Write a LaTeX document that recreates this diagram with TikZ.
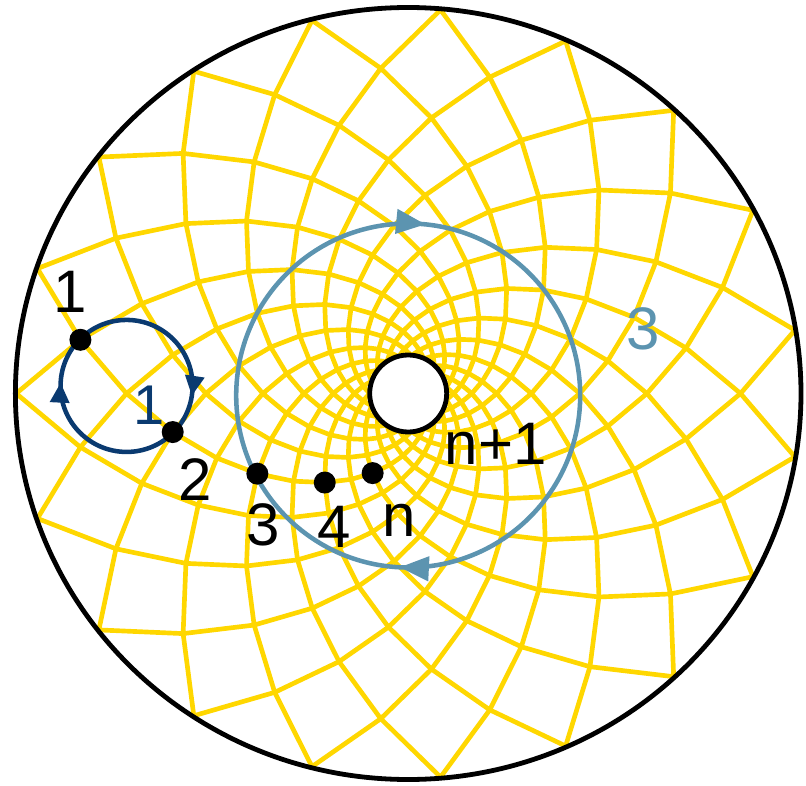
\documentclass[tikz,border=0pt]{standalone}
\usepackage{fontspec}
\setmainfont{Liberation Sans}
\usetikzlibrary{arrows.meta,decorations.markings,calc}

\definecolor{gridyellow}{RGB}{255,215,0}
\definecolor{navyloop}{RGB}{10,58,112}
\definecolor{steelloop}{RGB}{92,148,176}

\newcommand{\Rout}{392}

\begin{document}
\begin{tikzpicture}[
    x=0.75pt, y=0.75pt,
    gridline/.style={gridyellow, line width=3.5pt, line join=round},
    rim/.style={line width=3.6pt},
    dot/.style={circle, fill=black, inner sep=0pt, minimum size=16.5pt},
    hole/.style={circle, draw, fill=white, line width=3.6pt, inner sep=0pt, minimum size=57.75pt},
    lbl/.style={inner sep=0pt, font=\fontsize{45}{54}\selectfont},
    navyarrows/.style={decoration={markings,
        mark=at position 0.274 with {\arrow{Triangle[length=15pt,width=14pt]}},
        mark=at position 0.758 with {\arrow{Triangle[length=15pt,width=14pt]}}},
        postaction={decorate}},
    steelarrows/.style={decoration={markings,
        mark=at position 0.016 with {\arrow{Triangle[length=22pt,width=18pt]}},
        mark=at position 0.508 with {\arrow{Triangle[length=22pt,width=18pt]}}},
        postaction={decorate}},
]
    \useasboundingbox (-408.2,-391.5) rectangle (397.8,393.5);

    % spiral mesh (two families of log spirals)
    \begin{scope}[yscale=0.982]
        \foreach \k in {0,...,14}{
            \pgfmathsetmacro\ra{\Rout*exp(-pi*\k/19)}
            \pgfmathsetmacro\rb{\Rout*exp(-pi*(\k+1)/19)}
            \foreach \j in {0,...,18}{
                \pgfmathsetmacro\a{180+(\j+\k/2)*360/19}
                \draw[gridline] (\a+180/19:\rb) -- (\a:\ra) -- (\a-180/19:\rb);
            }
        }
        % sites along one spiral
        \foreach \m/\name in {0/d1,1/d2,2/d3,3/d4,4/dn}{
            \coordinate (\name) at ({180+(2*\m-1)*180/19}:{\Rout*exp(-pi*(2*\m+1)/19)});
        }
    \end{scope}

    % outer boundary
    \draw[rim] (0,0) ellipse [x radius=392.8, y radius=386];

    % large loop
    \coordinate (c3) at (0,-2);
    \draw[steelloop, line width=3.4pt, steelarrows] (c3) ++(90:172) arc[start angle=90, end angle=-270, radius=172];

    % inner hole
    \node[hole] (hole) at (0,0) {};

    % small loop through sites 1 and 2
    \coordinate (c1) at ($(d1)!0.5!(d2)$);
    \draw[navyloop, line width=3.4pt, navyarrows] (c1) ++(90:66) arc[start angle=90, end angle=-270, radius=66];

    \foreach \name in {d1,d2,d3,d4,dn}
        \node[dot] (\name dot) at (\name) {};

    % labels
    \node[lbl] (l1) at (-338,101.5) {1};
    \node[lbl] (l2) at (-213,-86.5) {2};
    \node[lbl] (l3) at (-145,-131.5) {3};
    \node[lbl] (l4) at (-74,-133.5) {4};
    \node[lbl] (ln) at (-9,-126.5) {n};
    \node[lbl] (lnp) at (87.5,-50) {n+1};
    \node[lbl, navyloop, font=\fontsize{42}{50}\selectfont] (loop1) at (-259,-11.5) {1};
    \node[lbl, steelloop] (loop3) at (235,64.5) {3};
\end{tikzpicture}
\end{document}
